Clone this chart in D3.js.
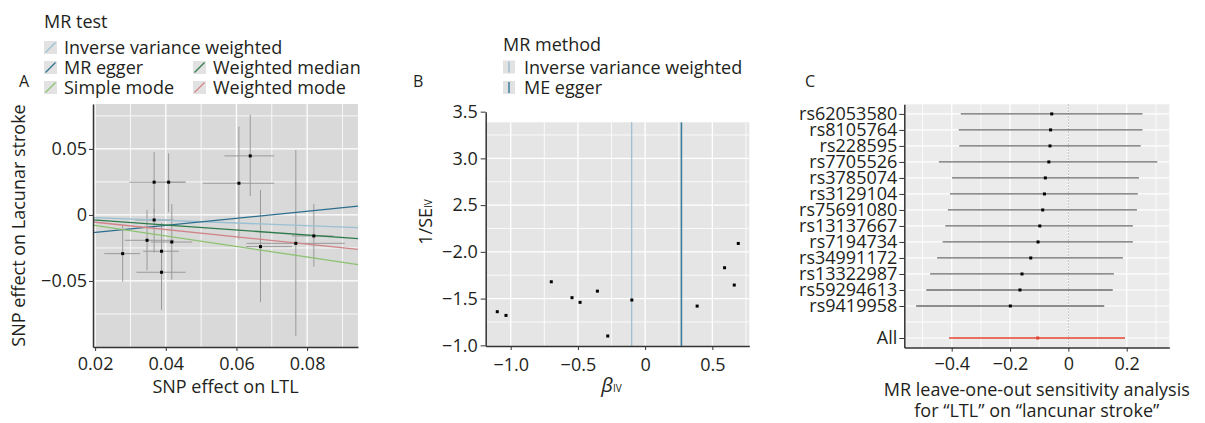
<!DOCTYPE html>
<html><head><meta charset="utf-8">
<script src="https://cdn.jsdelivr.net/npm/d3@7"></script>
<style>
body{margin:0;background:#fff;}
svg text{font-family:"Open Sans",sans-serif;fill:#231f20;}
</style></head>
<body><svg id="c" width="1205" height="423"></svg>
<script>
// ---------- Panel A data ----------
const snpX   = [0.0278,0.0347,0.0367,0.0367,0.0408,0.0388,0.0388,0.0417,0.0607,0.0639,0.0668,0.0768,0.0819];
const snpXlo = [0.0226,0.0284,0.0297,0.0313,0.0370,0.0336,0.0317,0.0358,0.0505,0.0566,0.0627,0.0629,0.0757];
const snpXhi = [0.0327,0.0423,0.0456,0.0423,0.0456,0.0437,0.0456,0.0475,0.0707,0.0707,0.0757,0.0907,0.0874];
const snpY   = [-0.0293,-0.0192,0.0248,-0.0038,0.0248,-0.0275,-0.0434,-0.0205,0.0240,0.0447,-0.0240,-0.0215,-0.0159];
const snpYlo = [-0.0505,-0.0420,0.0020,-0.0286,0.0020,-0.0480,-0.0720,-0.0490,-0.0184,0.0144,-0.0661,-0.0917,-0.0392];
const snpYhi = [-0.0083,0.0038,0.0475,0.0045,0.0467,-0.0060,-0.0150,0.0083,0.0669,0.0758,0.0189,0.0492,0.0083];
const mrTests      = ["Inverse variance weighted","MR egger","Simple mode","Weighted median","Weighted mode"];
const mrSlopes     = [-0.102, 0.267, -0.398, -0.190, -0.276];
const mrIntercepts = [0, -0.0186, 0, 0, 0];
const mrColors     = ["#9bbfd3","#2c6f8e","#8dc271","#2e7b4c","#d08488"];
const xTicksA = [0.02,0.04,0.06,0.08];
const yTicksA = [-0.05,0,0.05];

// ---------- Panel B data ----------
const betaIV  = [-1.10,-1.035,-0.698,-0.544,-0.484,-0.355,-0.278,-0.099,0.387,0.591,0.663,0.693];
const invSE   = [1.36,1.32,1.68,1.51,1.46,1.58,1.10,1.485,1.42,1.83,1.645,2.09];
const mrMethods = ["Inverse variance weighted","ME egger"];
const mrMethodEst = [-0.10, 0.27];
const mrMethodColors = ["#9bbcd0","#3c7c9c"];
const xTicksB = [-1.0,-0.5,0,0.5];
const xTickLabelsB = ["−1.0","−0.5","0","0.5"];
const yTicksB = [1.0,1.5,2.0,2.5,3.0,3.5];
const yTickLabelsB = ["−1.0","−1.5","−2.0","2.5","3.0","3.5"];

// ---------- Panel C data ----------
const looSNPs = ["rs62053580","rs8105764","rs228595","rs7705526","rs3785074","rs3129104","rs75691080","rs13137667","rs7194734","rs34991172","rs13322987","rs59294613","rs9419958","","All"];
const looEst  = [-0.057,-0.061,-0.063,-0.067,-0.079,-0.082,-0.088,-0.098,-0.104,-0.129,-0.159,-0.166,-0.199,null,-0.105];
const looLo   = [-0.369,-0.376,-0.374,-0.444,-0.399,-0.406,-0.413,-0.422,-0.431,-0.450,-0.474,-0.487,-0.522,null,-0.409];
const looHi   = [0.254,0.254,0.248,0.305,0.242,0.238,0.235,0.221,0.221,0.187,0.156,0.152,0.123,null,0.194];
const xTicksC = [-0.4,-0.2,0,0.2];
const xTickLabelsC = ["−0.4","−0.2","0","0.2"];

const svg = d3.select("#c");
const FS = 18;
const axisCol = "#333";

function fmtMinus(v){ return (v<0?"−":"") + Math.abs(v); }

// ============ PANEL A ============
(function(){
  const L=93,R=358,T=104,B=347;
  const x = d3.scaleLinear().domain([0.0194,0.0944]).range([L,R]);
  const y = d3.scaleLinear().domain([-0.1,0.084]).range([B,T]);
  const g = svg.append("g");
  g.append("rect").attr("x",L).attr("y",T).attr("width",R-L).attr("height",B-T).attr("fill","#d9d9d9");
  g.selectAll(".gx").data(d3.range(0.02,0.0945,0.01)).join("line")
    .attr("x1",d=>x(d)).attr("x2",d=>x(d)).attr("y1",T).attr("y2",B)
    .attr("stroke","#fff").attr("stroke-width",(d,i)=>i%2==0?1.3:0.8);
  g.selectAll(".gy").data([-0.075,-0.05,-0.025,0,0.025,0.05,0.075]).join("line")
    .attr("y1",d=>y(d)).attr("y2",d=>y(d)).attr("x1",L).attr("x2",R)
    .attr("stroke","#fff").attr("stroke-width",(d,i)=>i%2==1?1.3:0.8);
  const idx = d3.range(snpX.length);
  g.selectAll(".eh").data(idx).join("line")
    .attr("x1",i=>x(snpXlo[i])).attr("x2",i=>x(snpXhi[i])).attr("y1",i=>y(snpY[i])).attr("y2",i=>y(snpY[i]))
    .attr("stroke","#9a9a9a").attr("stroke-width",1);
  g.selectAll(".ev").data(idx).join("line")
    .attr("y1",i=>y(snpYlo[i])).attr("y2",i=>y(snpYhi[i])).attr("x1",i=>x(snpX[i])).attr("x2",i=>x(snpX[i]))
    .attr("stroke","#9a9a9a").attr("stroke-width",1);
  const x0=x.domain()[0], x1=x.domain()[1];
  g.selectAll(".ml").data(d3.range(mrTests.length)).join("line")
    .attr("x1",L).attr("x2",R)
    .attr("y1",i=>y(mrIntercepts[i]+mrSlopes[i]*x0)).attr("y2",i=>y(mrIntercepts[i]+mrSlopes[i]*x1))
    .attr("stroke",i=>mrColors[i]).attr("stroke-width",1.3);
  g.selectAll(".pt").data(idx).join("rect")
    .attr("x",i=>x(snpX[i])-1.5).attr("y",i=>y(snpY[i])-1.5).attr("width",3).attr("height",3).attr("fill","#000");
  // axes
  const ax = g.append("g").attr("transform",`translate(0,${B})`)
    .call(d3.axisBottom(x).tickValues(xTicksA).tickFormat(d3.format(".2f")).tickSize(4).tickSizeOuter(0));
  ax.select(".domain").attr("stroke",axisCol).attr("stroke-width",1.5);
  ax.selectAll(".tick line").attr("stroke",axisCol);
  ax.selectAll("text").attr("font-size",FS).attr("dy","0.71em").attr("y",10).attr("font-family",null).attr("fill",null);
  const ay = g.append("g").attr("transform",`translate(${L},0)`)
    .call(d3.axisLeft(y).tickValues(yTicksA).tickFormat(d=>d===0?"0":fmtMinus(d)).tickSize(4).tickSizeOuter(0));
  ay.select(".domain").attr("stroke",axisCol).attr("stroke-width",1.5);
  ay.selectAll(".tick line").attr("stroke",axisCol);
  ay.selectAll("text").attr("font-size",FS).attr("x",-6).attr("font-family",null).attr("fill",null);
  g.append("text").attr("x",(L+R)/2).attr("y",393).attr("text-anchor","middle").attr("font-size",FS).text("SNP effect on LTL");
  g.append("text").attr("transform",`translate(25,${(T+B)/2}) rotate(-90)`).attr("text-anchor","middle").attr("font-size",FS).text("SNP effect on Lacunar stroke");
  g.append("text").attr("x",19).attr("y",87).attr("font-size",16).text("A");
  // legend
  g.append("text").attr("x",44).attr("y",28).attr("font-size",FS).text("MR test");
  const pos = [[44,54],[44,74],[44,94],[193,74],[193,94]];
  mrTests.forEach((m,i)=>{
    const [lx,ly]=pos[i];
    g.append("rect").attr("x",lx).attr("y",ly-13).attr("width",13).attr("height",13).attr("fill","#e2e2e2");
    g.append("line").attr("x1",lx+1.5).attr("y1",ly-1.5).attr("x2",lx+11.5).attr("y2",ly-11.5).attr("stroke",mrColors[i]).attr("stroke-width",1.2);
    g.append("text").attr("x",lx+20).attr("y",ly).attr("font-size",FS).text(m);
  });
})();

// ============ PANEL B ============
(function(){
  const L=485.7,R=749.3,T=122.3,B=346;
  const x = d3.scaleLinear().domain([-1.186,0.775]).range([L,R]);
  const y = d3.scaleLinear().domain([0.993,3.386]).range([B,T]);
  const g = svg.append("g");
  g.append("rect").attr("x",L).attr("y",T).attr("width",R-L).attr("height",B-T).attr("fill","#e5e5e5");
  g.selectAll(".gx").data([-1,-0.75,-0.5,-0.25,0,0.25,0.5,0.75]).join("line")
    .attr("x1",d=>x(d)).attr("x2",d=>x(d)).attr("y1",T).attr("y2",B)
    .attr("stroke","#fff").attr("stroke-width",(d,i)=>i%2==0?1.3:0.8);
  g.selectAll(".gy").data([1.25,1.5,1.75,2,2.25,2.5,2.75,3,3.25]).join("line")
    .attr("y1",d=>y(d)).attr("y2",d=>y(d)).attr("x1",L).attr("x2",R)
    .attr("stroke","#fff").attr("stroke-width",(d,i)=>i%2==1?1.3:0.8);
  g.selectAll(".vl").data(d3.range(mrMethods.length)).join("line")
    .attr("x1",i=>x(mrMethodEst[i])).attr("x2",i=>x(mrMethodEst[i])).attr("y1",T).attr("y2",B)
    .attr("stroke",i=>mrMethodColors[i]).attr("stroke-width",(d,i)=>i==0?1.2:1.6);
  g.selectAll(".pt").data(d3.range(betaIV.length)).join("rect")
    .attr("x",i=>x(betaIV[i])-1.5).attr("y",i=>y(invSE[i])-1.5).attr("width",3).attr("height",3).attr("fill","#000");
  const ax = g.append("g").attr("transform",`translate(0,${B})`)
    .call(d3.axisBottom(x).tickValues(xTicksB).tickFormat((d,i)=>xTickLabelsB[i]).tickSize(4).tickSizeOuter(0));
  ax.select(".domain").attr("stroke",axisCol).attr("stroke-width",1.5);
  ax.selectAll(".tick line").attr("stroke",axisCol);
  ax.selectAll("text").attr("font-size",FS).attr("dy","0.71em").attr("y",12).attr("font-family",null).attr("fill",null);
  const yAxisScale = y.copy().domain([0.993,3.5]).range([B,y(3.5)]);
  const ay = g.append("g").attr("transform",`translate(${L},0)`)
    .call(d3.axisLeft(yAxisScale).tickValues(yTicksB).tickFormat((d,i)=>yTickLabelsB[i]).tickSize(5).tickSizeOuter(0));
  ay.select(".domain").attr("stroke",axisCol).attr("stroke-width",1.5);
  ay.selectAll(".tick line").attr("stroke",axisCol);
  ay.selectAll("text").attr("font-size",FS).attr("x",-8).attr("font-family",null).attr("fill",null);
  const xt = g.append("text").attr("x",(L+R)/2-6).attr("y",392).attr("text-anchor","middle");
  xt.append("tspan").attr("font-size",FS+2).attr("font-style","italic").text("β");
  xt.append("tspan").attr("font-size",10).text("IV");
  const yt = g.append("text").attr("transform",`translate(432,222) rotate(-90)`).attr("text-anchor","middle");
  yt.append("tspan").attr("font-size",FS).text("1/SE");
  yt.append("tspan").attr("font-size",10).text("IV");
  g.append("text").attr("x",413).attr("y",87).attr("font-size",16).text("B");
  // legend
  g.append("text").attr("x",503).attr("y",51).attr("font-size",FS).text("MR method");
  mrMethods.forEach((m,i)=>{
    const ly = 73.5 + i*20.5;
    g.append("rect").attr("x",503).attr("y",ly-13).attr("width",12).attr("height",13).attr("fill","#e2e2e2");
    g.append("line").attr("x1",509).attr("x2",509).attr("y1",ly-12).attr("y2",ly-1).attr("stroke",mrMethodColors[i]).attr("stroke-width",1.5);
    g.append("text").attr("x",524).attr("y",ly).attr("font-size",FS).text(m);
  });
})();

// ============ PANEL C ============
(function(){
  const L=904.3,R=1169.3,T=104.3,B=347.6;
  const x = d3.scaleLinear().domain([-0.5625,0.346]).range([L,R]);
  const keys = looSNPs.map((d,i)=>"k"+i);
  const y = d3.scalePoint().domain(keys).range([T,B]).padding(0.6);
  const g = svg.append("g");
  g.append("rect").attr("x",L).attr("y",T).attr("width",R-L).attr("height",B-T).attr("fill","#ebebeb");
  g.selectAll(".gx").data([-0.5,-0.4,-0.3,-0.2,-0.1,0,0.1,0.2,0.3]).join("line")
    .attr("x1",d=>x(d)).attr("x2",d=>x(d)).attr("y1",T).attr("y2",B)
    .attr("stroke","#fff").attr("stroke-width",(d,i)=>i%2==1?1.3:0.8);
  g.selectAll(".gy").data(keys).join("line")
    .attr("y1",d=>y(d)).attr("y2",d=>y(d)).attr("x1",L).attr("x2",R)
    .attr("stroke","#fff").attr("stroke-width",1.2);
  g.append("line").attr("x1",x(0)).attr("x2",x(0)).attr("y1",T).attr("y2",B)
    .attr("stroke","#999").attr("stroke-width",0.8).attr("stroke-dasharray","1.5,1.5");
  const idx = d3.range(looSNPs.length).filter(i=>looEst[i]!==null);
  g.selectAll(".ci").data(idx).join("line")
    .attr("x1",i=>x(looLo[i])).attr("x2",i=>x(looHi[i])).attr("y1",i=>y(keys[i])).attr("y2",i=>y(keys[i]))
    .attr("stroke",i=>looSNPs[i]==="All"?"#e3402f":"#6a6a6a").attr("stroke-width",1.3);
  g.selectAll(".pt").data(idx).join("rect")
    .attr("x",i=>x(looEst[i])-1.5).attr("y",i=>y(keys[i])-1.5).attr("width",3).attr("height",3)
    .attr("fill",i=>looSNPs[i]==="All"?"#e3402f":"#000");
  const ax = g.append("g").attr("transform",`translate(0,${B})`)
    .call(d3.axisBottom(x).tickValues(xTicksC).tickFormat((d,i)=>xTickLabelsC[i]).tickSize(4).tickSizeOuter(0));
  ax.select(".domain").attr("stroke",axisCol).attr("stroke-width",1.5);
  ax.selectAll(".tick line").attr("stroke",axisCol);
  ax.selectAll("text").attr("font-size",FS).attr("dy","0.71em").attr("y",10).attr("font-family",null).attr("fill",null);
  const ay = g.append("g").attr("transform",`translate(${L},0)`)
    .call(d3.axisLeft(y).tickFormat((d,i)=>looSNPs[i]).tickSize(5).tickSizeOuter(0));
  ay.select(".domain").attr("stroke",axisCol).attr("stroke-width",1.5);
  ay.selectAll(".tick line").attr("stroke",(d,i)=>looSNPs[i]===""?"none":axisCol);
  ay.selectAll("text").attr("font-size",FS).attr("x",-7).attr("font-family",null).attr("fill",null);
  g.append("text").attr("x",(L+R)/2).attr("y",395.5).attr("text-anchor","middle").attr("font-size",FS).text("MR leave-one-out sensitivity analysis");
  g.append("text").attr("x",(L+R)/2).attr("y",417).attr("text-anchor","middle").attr("font-size",FS).text("for “LTL” on “lancunar stroke”");
  g.append("text").attr("x",805).attr("y",87).attr("font-size",16).text("C");
})();
</script></body></html>
